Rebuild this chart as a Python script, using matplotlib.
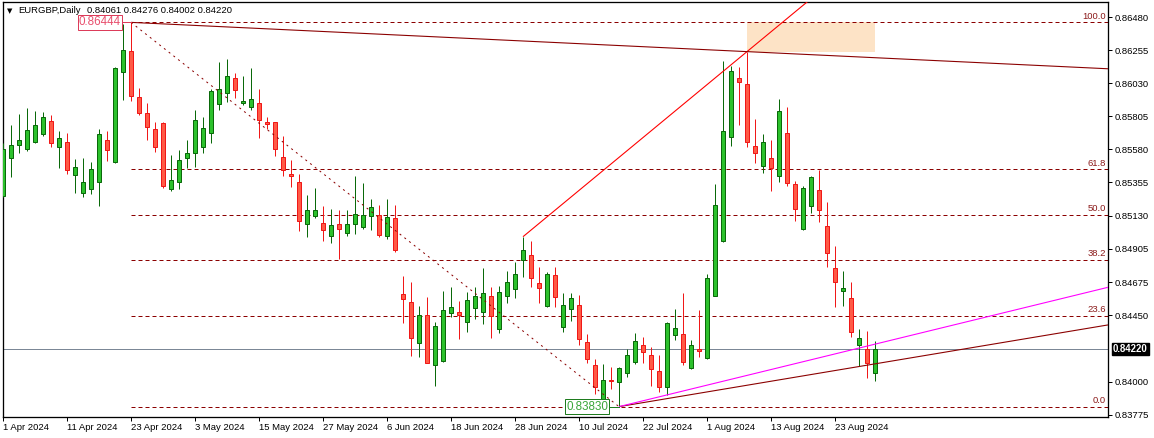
import matplotlib
matplotlib.use('Agg')
import matplotlib.pyplot as plt
import pandas as pd

# ─── Data (EURGBP daily) ────────────────────────────────────────
SYMBOL = 'EURGBP,Daily'
START_DATE = '2024-04-01'

opens = [
    0.85265, 0.85523, 0.85612, 0.85581, 0.85632, 0.85683, 0.85773, 0.85598, 0.85628, 0.85408,
    0.85281, 0.85308, 0.85360, 0.85642, 0.85492, 0.86109, 0.86249, 0.85934, 0.85825, 0.85719,
    0.85757, 0.85310, 0.85356, 0.85519, 0.85553, 0.85598, 0.85694, 0.85887, 0.85962, 0.86064,
    0.85894, 0.85870, 0.85894, 0.85764, 0.85764, 0.85526, 0.85411, 0.85356, 0.85070, 0.85127,
    0.85077, 0.84989, 0.85070, 0.85009, 0.85070, 0.85050, 0.85127, 0.85132, 0.84991, 0.85111,
    0.84594, 0.84540, 0.84261, 0.84451, 0.84111, 0.84140, 0.84465, 0.84472, 0.84408, 0.84499,
    0.84476, 0.84581, 0.84356, 0.84581, 0.84628, 0.84828, 0.84860, 0.84669, 0.84517, 0.84726,
    0.84370, 0.84492, 0.84521, 0.84268, 0.84111, 0.83880, 0.84011, 0.83999, 0.84061, 0.84136,
    0.84247, 0.84179, 0.84070, 0.83966, 0.84315, 0.84322, 0.84095, 0.84220, 0.84163, 0.84583,
    0.84957, 0.85666, 0.86064, 0.86023, 0.85605, 0.85469, 0.85519, 0.85401, 0.85689, 0.85343,
    0.85036, 0.85197, 0.85302, 0.85057, 0.84771, 0.84619, 0.84567, 0.84247, 0.84220, 0.84061,
]
highs = [
    0.85623, 0.85746, 0.85821, 0.85862, 0.85841, 0.85836, 0.85814, 0.85705, 0.85691, 0.85515,
    0.85521, 0.85494, 0.85719, 0.85707, 0.86143, 0.86433, 0.86444, 0.85996, 0.85898, 0.85768,
    0.85763, 0.85542, 0.85576, 0.85644, 0.85848, 0.85802, 0.85991, 0.86177, 0.86193, 0.86102,
    0.86079, 0.86136, 0.85989, 0.85800, 0.85766, 0.85671, 0.85508, 0.85413, 0.85270, 0.85315,
    0.85195, 0.85172, 0.85168, 0.85168, 0.85399, 0.85349, 0.85240, 0.85200, 0.85240, 0.85200,
    0.84719, 0.84678, 0.84515, 0.84578, 0.84406, 0.84617, 0.84642, 0.84549, 0.84608, 0.84646,
    0.84771, 0.84646, 0.84651, 0.84755, 0.84814, 0.84986, 0.84959, 0.84782, 0.84748, 0.84780,
    0.84601, 0.84601, 0.84589, 0.84324, 0.84152, 0.84120, 0.84102, 0.84098, 0.84220, 0.84333,
    0.84306, 0.84234, 0.84181, 0.84406, 0.84494, 0.84605, 0.84283, 0.84487, 0.84732, 0.85345,
    0.86181, 0.86149, 0.86138, 0.86245, 0.85787, 0.85685, 0.85644, 0.85923, 0.85866, 0.85365,
    0.85331, 0.85399, 0.85440, 0.85224, 0.84923, 0.84753, 0.84680, 0.84356, 0.84344, 0.84276,
]
lows = [
    0.85256, 0.85394, 0.85557, 0.85569, 0.85623, 0.85671, 0.85598, 0.85455, 0.85411, 0.85281,
    0.85258, 0.85274, 0.85197, 0.85503, 0.85487, 0.85916, 0.85910, 0.85814, 0.85644, 0.85564,
    0.85319, 0.85297, 0.85310, 0.85455, 0.85462, 0.85557, 0.85621, 0.85848, 0.85904, 0.85928,
    0.85882, 0.85848, 0.85655, 0.85717, 0.85537, 0.85401, 0.85326, 0.85027, 0.84986, 0.85111,
    0.84959, 0.84945, 0.84832, 0.84993, 0.85002, 0.85038, 0.85032, 0.84982, 0.84968, 0.84884,
    0.84397, 0.84176, 0.84170, 0.84125, 0.83972, 0.84135, 0.84442, 0.84290, 0.84340, 0.84424,
    0.84390, 0.84299, 0.84331, 0.84533, 0.84567, 0.84714, 0.84646, 0.84537, 0.84506, 0.84510,
    0.84340, 0.84415, 0.84249, 0.84125, 0.83914, 0.83853, 0.83948, 0.83830, 0.84034, 0.84120,
    0.84125, 0.83970, 0.83930, 0.83909, 0.84281, 0.84113, 0.84086, 0.84170, 0.84156, 0.84580,
    0.84953, 0.85605, 0.85746, 0.85598, 0.85489, 0.85417, 0.85299, 0.85360, 0.85333, 0.85095,
    0.85034, 0.85149, 0.85088, 0.84782, 0.84510, 0.84515, 0.84306, 0.84106, 0.84023, 0.84002,
]
closes = [
    0.85583, 0.85610, 0.85644, 0.85712, 0.85746, 0.85802, 0.85626, 0.85655, 0.85438, 0.85458,
    0.85356, 0.85445, 0.85683, 0.85574, 0.86132, 0.86256, 0.85945, 0.85830, 0.85734, 0.85594,
    0.85333, 0.85372, 0.85508, 0.85553, 0.85780, 0.85723, 0.85979, 0.85989, 0.86079, 0.85984,
    0.85909, 0.85923, 0.85780, 0.85753, 0.85581, 0.85440, 0.85401, 0.85093, 0.85166, 0.85166,
    0.85032, 0.85064, 0.85036, 0.85070, 0.85138, 0.85132, 0.85186, 0.84996, 0.85118, 0.84896,
    0.84560, 0.84299, 0.84451, 0.84129, 0.84377, 0.84485, 0.84506, 0.84451, 0.84553, 0.84581,
    0.84601, 0.84449, 0.84608, 0.84676, 0.84730, 0.84896, 0.84705, 0.84639, 0.84732, 0.84578,
    0.84521, 0.84567, 0.84288, 0.84152, 0.83962, 0.84009, 0.84002, 0.84091, 0.84179, 0.84274,
    0.84204, 0.84084, 0.83966, 0.84397, 0.84363, 0.84132, 0.84247, 0.84206, 0.84703, 0.85200,
    0.85703, 0.86113, 0.86036, 0.85632, 0.85553, 0.85628, 0.85451, 0.85841, 0.85349, 0.85172,
    0.85315, 0.85390, 0.85166, 0.84873, 0.84680, 0.84635, 0.84336, 0.84295, 0.84125, 0.84220,
]

# fibonacci retracement anchors (bar index, price)
FIB_HIGH = (16, 0.86444)
FIB_LOW = (77, 0.83830)
FIB_LEVELS = [0.0, 23.6, 38.2, 50.0, 61.8, 100.0]

# trend lines: (bar0, price0, bar1, price1)
RED_RAY = (65, 0.84986, 93, 0.86245)
DOWN_RAY = (16, 0.86444, 93, 0.86245)
UP_RAY = (77, 0.83830, 109, 0.84121)
MAGENTA_RAY = (77, 0.83830, 109, 0.84255)
# highlighted zone (bar0, bar1, price_lo, price_hi)
ZONE = (93, 109, 0.86245, 0.86444)

YTICKS = [0.83775, 0.84000, 0.84450, 0.84675, 0.84905, 0.85130,
          0.85355, 0.85580, 0.85805, 0.86030, 0.86255, 0.86480]
LABEL_EVERY = 8

# ─── Colours ────────────────────────────────────────────────────
GREEN_FILL = '#2cc12c'
GREEN_EDGE = '#0a690a'
RED_FILL = '#ff5a46'
RED_EDGE = '#f01818'
DARKRED = '#8b0000'
FONT = 'Liberation Sans'
PX = 0.72  # one pixel in points at dpi=100

W, H = 1154, 438
fig = plt.figure(figsize=(W / 100, H / 100), dpi=100)
ax = fig.add_axes([2.5 / W, 21 / H, 1105.5 / W, 415 / H])
XMAX = 138.125
ax.set_xlim(-0.0625, XMAX)
ax.set_ylim(0.837595, 0.865826)

n = len(opens)
idx = list(range(n))
dates = pd.bdate_range(START_DATE, periods=n)

# ── candles ────────────────────────────────────────────────
for i in idx:
    o, h, l, c = opens[i], highs[i], lows[i], closes[i]
    up = c >= o
    wick = GREEN_EDGE if up else RED_EDGE
    ax.vlines(i, l, h, colors=wick, lw=PX, zorder=3)
    ax.bar(i, max(abs(c - o), 1e-6), bottom=min(o, c), width=0.52,
           color=GREEN_FILL if up else RED_FILL,
           edgecolor=GREEN_EDGE if up else RED_EDGE,
           linewidth=PX, zorder=4)

# ── current price line ─────────────────────────────────────
last = closes[-1]
ax.axhline(last, color='#7b8796', lw=PX, zorder=2)

# ── highlighted zone ───────────────────────────────────────
z0, z1, zlo, zhi = ZONE
ax.add_patch(plt.Rectangle((z0, zlo), z1 - z0, zhi - zlo,
                           facecolor='#fde3c6', edgecolor='none', zorder=1))

# ── fibonacci ──────────────────────────────────────────────
hi_i, hi_p = FIB_HIGH
lo_i, lo_p = FIB_LOW
for lev in FIB_LEVELS:
    p = lo_p + (hi_p - lo_p) * lev / 100
    ax.plot([hi_i, XMAX], [p, p], color=DARKRED, lw=PX,
            dashes=(4, 3), zorder=2)
    ax.annotate(f'{lev:.1f}', xy=(1.0, p), xycoords=('axes fraction', 'data'),
                xytext=(-2, 1.5), textcoords='offset pixels',
                ha='right', va='bottom', fontsize=6.8, family=FONT,
                color='#8b1a1a', zorder=6)
ax.plot([hi_i, lo_i], [hi_p, lo_p], color=DARKRED, lw=PX,
        dashes=(2, 4), zorder=5)


def ray(spec, color):
    x0, p0, x1, p1 = spec
    k = (p1 - p0) / (x1 - x0)
    ax.plot([x0, XMAX], [p0, p0 + k * (XMAX - x0)], color=color,
            lw=PX * 1.1, zorder=5, solid_capstyle='butt')


ray(RED_RAY, '#ff0000')
ray(DOWN_RAY, DARKRED)
ray(UP_RAY, DARKRED)
ray(MAGENTA_RAY, '#ff00ff')

# ── price labels at the swing points ───────────────────────
ax.plot([hi_i - 1.1, hi_i], [hi_p, hi_p], color='#dc3c5a', lw=PX, zorder=5)
ax.annotate(f'{hi_p:.5f}', xy=(hi_i, hi_p), xytext=(-10, 0),
            textcoords='offset pixels', ha='right', va='center',
            fontsize=8.4, family=FONT, color='#e8506e', zorder=7,
            bbox=dict(boxstyle='square,pad=0.1', fc='white',
                      ec='#dc3c5a', lw=PX))
ax.plot([lo_i - 1.2, lo_i], [lo_p, lo_p], color='#1e7b1e', lw=PX, zorder=5)
ax.annotate(f'{lo_p:.5f}', xy=(lo_i, lo_p), xytext=(-11, 0),
            textcoords='offset pixels', ha='right', va='center',
            fontsize=8.4, family=FONT, color='#3aa63a', zorder=7,
            bbox=dict(boxstyle='square,pad=0.1', fc='white',
                      ec='#1e7b1e', lw=PX))

# ── axes ───────────────────────────────────────────────────
for sp in ax.spines.values():
    sp.set_color('black')
    sp.set_linewidth(PX * 1.3)

ax.yaxis.tick_right()
ax.set_yticks(YTICKS)
ax.set_yticklabels([f'{v:.5f}' for v in YTICKS])
ax.tick_params(axis='y', length=2.6, width=PX, pad=2, labelsize=6.8,
               colors='black')

xt = idx[::LABEL_EVERY]
ax.set_xticks(xt)
ax.set_xticklabels([f'{dates[i].day} {dates[i].strftime("%b %Y")}' for i in xt])
ax.tick_params(axis='x', length=3, width=PX, pad=1.5, labelsize=6.8,
               colors='black')
for lab in ax.get_xticklabels() + ax.get_yticklabels():
    lab.set_family(FONT)
for lab in ax.get_xticklabels():
    lab.set_ha('left')

# current price box on the axis
ax.annotate(f'{last:.5f}', xy=(1.0, last), xycoords=('axes fraction', 'data'),
            xytext=(5, 0), textcoords='offset pixels', ha='left', va='center',
            fontsize=6.9, family=FONT, color='white', fontweight='bold',
            annotation_clip=False, zorder=8,
            bbox=dict(boxstyle='square,pad=0.12', fc='black', ec='black'))

# ── header ─────────────────────────────────────────────────
fig.text(6.5 / W, 1 - 11 / H, '▼', fontsize=5, family='DejaVu Sans',
         va='center', ha='left', color='black')
fig.text(18 / W, 1 - 10.5 / H, SYMBOL, fontsize=6.8, family=FONT,
         va='center', ha='left', color='black')
fig.text(87 / W, 1 - 10.5 / H,
         f'{opens[-1]:.5f} {highs[-1]:.5f} {lows[-1]:.5f} {closes[-1]:.5f}',
         fontsize=6.8, family=FONT, va='center', ha='left', color='black')

fig.savefig('out.png', dpi=100, facecolor='white')
